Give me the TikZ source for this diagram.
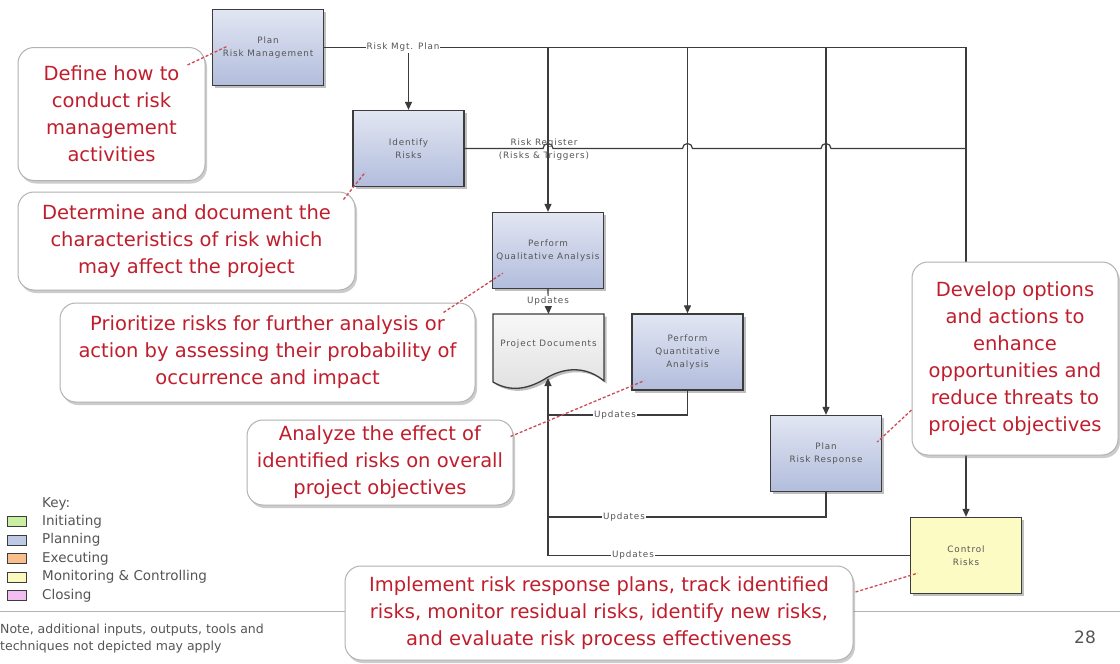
\documentclass[tikz,border=0pt]{standalone}
\usepackage{fontspec}
\setmainfont{DejaVu Sans}
\newfontfamily\boxfam[LetterSpace=10]{DejaVu Sans}
\usepackage{tikz}
\usetikzlibrary{calc,arrows.meta,shadows}
\definecolor{planTop}{RGB}{226,230,243}
\definecolor{planBot}{RGB}{178,189,220}
\definecolor{ctrlFill}{RGB}{252,251,196}
\definecolor{calRed}{RGB}{192,30,45}
\definecolor{lineGray}{RGB}{60,60,60}
\definecolor{txtGray}{RGB}{85,85,85}
\definecolor{initC}{RGB}{200,240,160}
\definecolor{planC}{RGB}{190,202,228}
\definecolor{execC}{RGB}{248,190,140}
\definecolor{monC}{RGB}{252,249,190}
\definecolor{closC}{RGB}{242,190,242}
\def\boxfont{\boxfam\fontsize{8.8}{13}\selectfont}
\def\calfont{\fontsize{19.5}{27}\selectfont}
\tikzset{
	proc/.style={draw=lineGray, line width=1.3pt, top color=planTop, bottom color=planBot,
		minimum width=111pt, minimum height=76pt, align=center, font=\boxfont, text=txtGray,
		preaction={fill=black!25, transform canvas={shift={(2.5pt,-2.5pt)}}}},
	callout/.style={draw=black!30, line width=1pt, fill=white, rounded corners=16pt, inner sep=0pt,
		align=center, font=\calfont, text=calRed,
		drop shadow={shadow xshift=2pt, shadow yshift=-3pt, opacity=0.4}},
	conn/.style={draw=lineGray, line width=1.2pt},
	tip/.style={-{Triangle[length=8pt,width=7pt]}},
	lbl/.style={fill=white, inner sep=1pt, font=\boxfont, text=txtGray},
	leader/.style={draw=calRed!80, line width=1.3pt, dash pattern=on 3pt off 2pt},
	swatch/.style={draw=lineGray, line width=1pt, minimum width=19pt, minimum height=10pt, inner sep=0pt},
	keytxt/.style={anchor=west, font=\fontsize{13.5}{15}\selectfont, text=txtGray, inner sep=0pt},
}

\begin{document}
\begin{tikzpicture}[x=1pt, y=-1pt]
		%%%%% START %%%%%
		\useasboundingbox[fill=white] (0,0) rectangle (1120,664);
		
		\node[proc] (prm) at (268,47.5) {Plan\\Risk Management};
		\node[proc] (ir) at (408.5,148.5) {Identify\\Risks};
		\node[proc] (qa) at (548,250.5) {Perform\\Qualitative Analysis};
		\node[proc] (qn) at (687.5,352) {Perform\\Quantitative\\Analysis};
		\node[proc] (prr) at (826,453.5) {Plan\\Risk Response};
		\node[proc, top color=ctrlFill, bottom color=ctrlFill] (cr) at (966,555.5) {Control\\Risks};
		
		% project documents
		\draw[conn, line width=1.3pt, top color=black!3, bottom color=black!12,
			preaction={fill=black!25, transform canvas={shift={(2.5pt,-2.5pt)}}}]
			(493,314) -- (604,314) -- (604,381)
			.. controls (590,369) and (570,365) .. (548,377)
			.. controls (528,390) and (510,392) .. (493,382) -- cycle;
		\node[font=\boxfont, text=txtGray] (pd) at (548.5,344) {Project Documents};
		\coordinate (pdin) at (548,378);
		
		% risk mgt. plan
		\coordinate (mgtR) at (966,47.5);
		\draw[conn, tip] (prm.east) -- (mgtR) -- (cr.north);
		\draw[conn, tip] (ir.north |- mgtR) -- (ir.north);
		\draw[conn, tip] (qa.north |- mgtR) -- (qa.north);
		\draw[conn, tip] (qn.north |- mgtR) -- (qn.north);
		\draw[conn, tip] (prr.north |- mgtR) -- (prr.north);
		\node[lbl] (mgtL) at (403,47.5) {Risk Mgt. Plan};
		
		% risk register
		\draw[conn] (ir.east) -- ($(qa.north |- ir.east)+(-5,0)$) arc (180:360:5)
			-- ($(qn.north |- ir.east)+(-5,0)$) arc (180:360:5)
			-- ($(prr.north |- ir.east)+(-5,0)$) arc (180:360:5)
			-- (mgtR |- ir.east);
		\node[font=\boxfont, text=txtGray, align=center] (regL) at (544,149.5) {Risk Register\\(Risks \& Triggers)};
		
		% updates
		\coordinate (j1) at (548,415);
		\coordinate (j2) at (548,517);
		\draw[conn, tip] (qa.south) -- (pd.north |- 0,314);
		\node[lbl] (u1) at (548,301) {Updates};
		\draw[conn, tip] (cr.west) -| (pdin);
		\draw[conn] (qn.south) |- (j1);
		\draw[conn] (prr.south) |- (j2);
		\node[lbl] (u2) at (615,415) {Updates};
		\node[lbl] (u3) at (624,517) {Updates};
		\node[lbl] (u4) at (633,555.5) {Updates};
		
		% key
		\node[keytxt] (key) at (42,504) {Key:};
		\foreach \c/\t [count=\i] in {initC/Initiating, planC/Planning, execC/Executing, monC/Monitoring \& Controlling, closC/Closing}
		{
			\node[swatch, fill=\c] (sw\i) at (17,503+18.5*\i) {};
			\node[keytxt] (kt\i) at (42,503+18.5*\i) {\t};
		}
		\draw[black!30, line width=1pt] (0,611) -- (1120,611);
		\node[anchor=north west, align=left, font=\fontsize{12.5}{17}\selectfont, text=txtGray, inner sep=0pt] (note) at (0,624)
			{Note, additional inputs, outputs, tools and\\techniques not depicted may apply};
		\node[font=\fontsize{17}{20}\selectfont, text=txtGray] (pg) at (1085,637) {28};
		
		% callouts
		\node[callout, minimum width=187pt, minimum height=133pt] (c1) at (111.5,114) {Define how to\\conduct risk\\management\\activities};
		\node[callout, minimum width=337pt, minimum height=98pt] (c2) at (186.5,241) {Determine and document the\\characteristics of risk which\\may affect the project};
		\node[callout, minimum width=415pt, minimum height=99pt] (c3) at (267.5,352.5) {Prioritize risks for further analysis or\\action by assessing their probability of\\occurrence and impact};
		\node[callout, minimum width=266pt, minimum height=85pt] (c4) at (380,462.5) {Analyze the effect of\\identified risks on overall\\project objectives};
		\node[callout, minimum width=206pt, minimum height=193pt] (c5) at (1015,358.5) {Develop options\\and actions to\\enhance\\opportunities and\\reduce threats to\\project objectives};
		\node[callout, minimum width=508pt, minimum height=94pt] (c6) at (599,613) {Implement risk response plans, track identified\\risks, monitor residual risks, identify new risks,\\and evaluate risk process effectiveness};
		
		\draw[leader] ($(c1.north east)+(-18,18)$) -- ($(prm.west)+(16,-1.5)$);
		\draw[leader] ($(c2.north east)+(-12,8)$) -- ($(ir.south west)+(13,-15)$);
		\draw[leader] ($(c3.north east)+(-32,10)$) -- ($(qa.south west)+(11,-16)$);
		\draw[leader] ($(c4.north east)+(-3,17)$) -- ($(qn.south west)+(13,-10)$);
		\draw[leader] (c5.west |- 0,410) -- ($(prr.east)+(-5,-11.5)$);
		\draw[leader] ($(c6.east)+(2,-21)$) -- ($(cr.south west)+(8,-21)$);
		%%%%% END %%%%%
\end{tikzpicture}
\end{document}
